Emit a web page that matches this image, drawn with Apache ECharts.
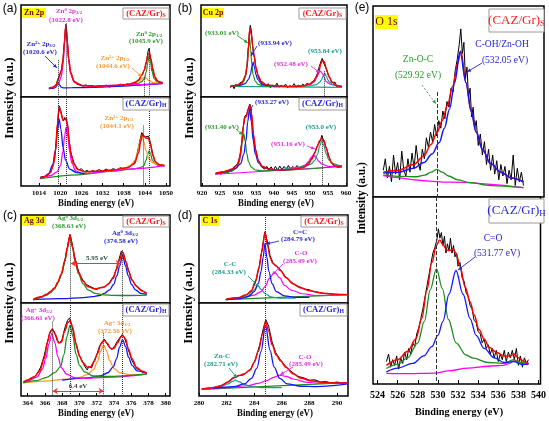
<!DOCTYPE html>
<html>
<head>
<meta charset="utf-8">
<script src="https://cdn.jsdelivr.net/npm/echarts@6/dist/echarts.min.js"></script>
<style>
html,body{margin:0;padding:0;background:#fff;}
#main{width:549px;height:421px;}
</style>
</head>
<body>
<div id="main"></div>
<script>
// tick labels of each panel
var znTicks = [1014,1020,1026,1032,1038,1044,1050];
var cuTicks = [920,925,930,935,940,945,950,955,960];
var agTicks = [364,366,368,370,372,374,376,378,380];
var c1sTicks = [280,282,284,286,288,290];
var o1sTicks = [524,526,528,530,532,534,536,538,540];

// (a) Zn 2p, (CAZ/Gr)S
var aS_zn2p3 = [[1016.8,9.1],[1018.0,9.4],[1018.7,10.3],[1019.1,12.5],[1019.5,15.3],[1019.9,12.6],[1020.3,10.6],[1021,9.9],[1022,9.9],[1024,10.2],[1049,14.6]];
var aS_zn0p3 = [[1016.8,9.6],[1017.5,10.2],[1018.5,11.5],[1019.5,14.5],[1020.3,22],[1020.8,35],[1021.2,57],[1021.6,77],[1022.0,59],[1022.4,40],[1023.0,25],[1024,16],[1026,12.3],[1030,11.6],[1040,13.4],[1049,14.8]];
var aS_zn0p1 = [[1040,13.6],[1042,14.8],[1043,16.4],[1043.8,19.8],[1044.4,27.4],[1044.8,37.5],[1045.2,45.5],[1045.6,37.6],[1046,27.6],[1046.6,20],[1047.4,16.6],[1048.5,15],[1049,14.8]];
var aS_zn2p1 = [[1038,13.3],[1040,13.9],[1041.3,15.2],[1042.4,17.6],[1043.2,20.2],[1043.8,21],[1044.4,20.2],[1045.2,17.7],[1046.4,15.6],[1048,14.8],[1049,14.6]];
var aS_fit = [[1016.8,9.3],[1018,10.5],[1018.8,12.8],[1019.5,20],[1020.3,28],[1020.8,40],[1021.2,60],[1021.6,78],[1022,61],[1022.4,41],[1023,26],[1024,16.5],[1026,12.6],[1030,11.8],[1035,12.4],[1039,13.6],[1041,15.4],[1042.2,18.5],[1043.2,24],[1043.8,29],[1044.4,38],[1044.9,46.5],[1045.25,47.5],[1045.7,41],[1046.2,31],[1046.8,22],[1047.6,17.5],[1048.5,15.5],[1049,15]];
var aS_data = [[1016.8,9],[1017.3,10.5],[1017.8,9.8],[1018.3,11.5],[1018.8,13],[1019.2,17],[1019.6,22],[1020,26],[1020.4,30],[1020.8,42],[1021.1,55],[1021.4,70],[1021.6,79],[1021.8,74],[1022.1,57],[1022.4,42],[1022.8,30],[1023.3,22],[1024,17],[1024.8,13.5],[1025.6,14],[1026.5,11.5],[1027.3,13.2],[1028.2,11],[1029,12.8],[1030,10.5],[1031,12.5],[1032,11],[1033,13],[1034,10.8],[1035,12.8],[1036,11.5],[1037,14],[1038,12],[1039,14.5],[1040,13],[1041,16],[1042,17],[1042.8,22],[1043.4,26],[1044,31],[1044.5,40],[1044.9,50],[1045.2,53],[1045.5,44],[1045.9,37],[1046.3,28],[1046.8,22],[1047.4,18],[1048,16.5],[1048.5,14.5],[1049,16]];
var aS_lines = [[1019.5,40,0],[1021.6,80,0],[1043.8,22,0],[1045.2,53,0]];

// (a) Zn 2p, (CAZ/Gr)H
var aH_zn0p1 = [[1014.3,8.3],[1025,12.6],[1035,16.7],[1040,18.8],[1042.5,20.3],[1043.6,22.2],[1044.3,28.7],[1044.8,35.6],[1045.2,39.6],[1045.6,35.8],[1046.1,29.2],[1046.8,25],[1048,22.8],[1049.5,22.6]];
var aH_zn2p3 = [[1014.3,9.6],[1015.5,10.5],[1016.7,14],[1017.9,24],[1018.6,40],[1019.2,62],[1019.7,75.5],[1020.2,64],[1020.8,43.5],[1021.5,29],[1022.7,19],[1024.7,15],[1027,14]];
var aH_zn0p3 = [[1014.3,9],[1017.2,11.5],[1019.0,15.5],[1020.1,23],[1020.75,38.5],[1021.25,56],[1021.7,66],[1022.15,56],[1022.65,38.8],[1023.3,25.8],[1024.4,17],[1026.2,13.8],[1029,14.5],[1035,17],[1040,19.2],[1049.5,22.9]];
var aH_zn2p1 = [[1035,17.3],[1038.1,19.8],[1039.9,23],[1041.1,28.5],[1041.9,37.5],[1042.5,49],[1043.1,56.6],[1043.7,50],[1044.3,39.5],[1045.1,31],[1046.3,26],[1048.1,24],[1049.5,23.5]];
var aH_fit = [[1014.3,9],[1016,11],[1017.2,15],[1018.1,24],[1018.7,40],[1019.2,70],[1019.7,88],[1020.2,82],[1020.8,74],[1021.3,75],[1021.7,76],[1022.1,68],[1022.6,48],[1023.1,35],[1023.8,25],[1025,18.5],[1027,16],[1030,16.5],[1035,18],[1039,20.5],[1041,25],[1042.2,37],[1042.8,50],[1043.2,57.5],[1043.7,56],[1044.3,54],[1045,53.5],[1045.5,48],[1046.2,35],[1047,27],[1048,24],[1049.5,23]];
var aH_data = [[1014.3,9],[1014.9,10.5],[1015.5,9.5],[1016.1,12],[1016.7,13.5],[1017.3,16],[1017.9,22],[1018.4,30],[1018.9,48],[1019.3,72],[1019.7,90],[1020.1,86],[1020.5,78],[1020.9,73],[1021.3,77],[1021.7,78],[1022.1,70],[1022.5,52],[1022.9,40],[1023.4,32],[1024,25],[1024.6,21],[1025.3,18],[1026,19.5],[1026.8,16],[1027.6,17.5],[1028.4,15.5],[1029.2,17.5],[1030,16],[1031,18.5],[1032,16.5],[1033,19],[1034,17],[1035,19.5],[1036,18],[1037,20.5],[1038,19.5],[1039,21],[1040,22.5],[1040.8,25],[1041.5,31],[1042.1,42],[1042.6,52],[1043.1,60],[1043.5,58],[1044,55],[1044.5,54.5],[1045,56],[1045.4,51],[1045.8,44],[1046.3,34],[1046.8,28],[1047.4,25.5],[1048,24],[1048.6,23],[1049.2,23.5],[1049.5,22]];
var aH_lines = [[1019.5,100,0],[1021.6,100,0],[1043.6,68,0],[1045.1,100,0]];

// (b) Cu 2p, (CAZ/Gr)S
var bS_base = [[927.9,11.6],[958.9,10.5]];
var bS_933 = [[927.9,11.6],[929.2,12.4],[930.7,13.5],[931.6,17],[932.2,24],[932.6,36],[932.9,52],[933.2,64.7],[933.5,52],[933.8,36],[934.2,24],[934.8,17],[935.7,13.5],[937.2,12.2],[941,11.3]];
var bS_934 = [[928,11.5],[930.5,12.5],[932,14.5],[932.9,19],[933.45,24.5],[933.85,32.5],[934.2,38],[934.55,32.5],[934.95,24.5],[935.5,19],[936.4,14.5],[938,12.5],[941,11.5]];
var bS_952 = [[945,11.5],[948.3,12.5],[950.2,14],[951.3,16.8],[952.0,22],[952.35,25.8],[952.9,28],[953.45,25.8],[953.9,22],[954.5,16.8],[955.6,14],[957.5,12.5],[958.9,11.5]];
var bS_954 = [[947,11],[950,12],[951.8,13.5],[952.7,16],[953.2,18.5],[953.65,22.5],[954.1,26],[954.55,22.5],[955,18.5],[955.5,16],[956.4,13.5],[958,12],[958.9,11.5]];
var bS_fit = [[927.9,11.6],[929.5,12.5],[931,15],[932,22],[932.5,33],[932.9,55],[933.3,75],[933.7,68],[934.1,55],[934.5,44],[935,32],[935.6,23],[936.5,16.5],[938,13],[941,12],[945,11.5],[948,12],[950,14],[951,17],[951.8,22],[952.5,28],[953,36],[953.5,40],[954,38],[954.6,30],[955.3,22],[956.2,16],[957.3,12.5],[958.9,11]];
var bS_data = [[927.9,10],[928.4,13],[928.9,9],[929.4,14],[929.9,11],[930.4,15],[930.9,13],[931.4,17],[931.8,21],[932.2,26],[932.5,35],[932.8,50],[933.1,68],[933.4,78],[933.7,72],[934.0,58],[934.3,47],[934.6,43],[934.9,33],[935.3,27],[935.8,20],[936.3,17],[936.8,12],[937.3,15],[937.8,11],[938.4,14.5],[939,10],[939.6,13],[940.2,11],[940.8,15],[941.4,10.5],[942,13],[942.6,11],[943.2,14],[943.8,10],[944.4,12.5],[945,11],[945.6,14.5],[946.2,10.5],[946.8,13],[947.4,11.5],[948,14],[948.6,12],[949.2,15],[949.8,13],[950.4,16],[951,17.5],[951.6,21],[952.1,26],[952.6,33],[953.0,38],[953.4,42],[953.8,37],[954.2,39],[954.6,30],[955,25],[955.5,21],[956,16],[956.5,14],[957,16],[957.5,11],[958,13],[958.5,10.5],[958.9,12]];
var bS_lines = [[954.1,28,0]];

// (b) Cu 2p, (CAZ/Gr)H
var bH_base = [[923.7,13.2],[958.9,21.9]];
var bH_931 = [[923.7,13.5],[926.6,15],[928.4,17],[929.6,20.5],[930.3,26.5],[930.8,36.5],[931.2,49.5],[931.6,58.5],[932,50],[932.4,37],[932.9,27.5],[933.6,21.5],[934.8,18],[936.6,17],[940,17.5],[958.9,22.5]];
var bH_933 = [[924,14],[926.2,16],[929.2,19.5],[930.7,25],[931.6,35.5],[932.2,51],[932.7,72.4],[933.2,86.8],[933.7,72.6],[934.2,51.5],[934.8,36],[935.7,26],[937.2,20.5],[940.2,18],[943,17.5]];
var bH_951 = [[940,18],[944.5,19],[946.8,20.5],[948.7,23.5],[949.6,27.5],[950.3,32],[951,35],[951.7,32.2],[952.4,28],[953.3,24.5],[955.2,22],[957.5,22],[958.9,22]];
var bH_953 = [[943,19.5],[948.3,21.5],[950.3,24.5],[951.3,28.5],[952.1,35.5],[952.7,44.8],[953.3,51],[953.9,45],[954.5,36.2],[955.3,29],[956.3,25.2],[958.3,22.8],[958.9,22.7]];
var bH_fit = [[923.7,14],[926,16],[928.5,19],[929.8,24],[930.5,32],[931,47],[931.5,68],[931.9,77],[932.3,78],[932.8,86],[933.3,90.5],[933.8,80],[934.3,58],[934.9,40],[935.7,28],[936.8,22],[938.5,19],[941,18],[945,18.5],[948,20.5],[949.5,24],[950.5,30],[951.3,37],[952,44],[952.7,51],[953.3,54],[953.9,51],[954.5,43],[955.2,33],[956,26],[957,22.5],[958.9,22]];
var bH_data = [[923.7,14],[924.2,12],[924.7,15.5],[925.2,13],[925.7,16.5],[926.2,14],[926.7,17.5],[927.2,15],[927.7,19],[928.2,16],[928.7,21],[929.2,19],[929.7,24],[930.2,28],[930.6,36],[931,48],[931.4,64],[931.8,78],[932.1,76],[932.5,81],[932.9,88],[933.3,92],[933.7,84],[934.1,63],[934.5,50],[934.9,41],[935.4,31],[935.9,27],[936.4,22],[936.9,24],[937.4,19],[938,22],[938.6,18],[939.2,21.5],[939.8,17.5],[940.4,22],[941,18],[941.6,22.5],[942.2,18.5],[942.8,22],[943.4,19],[944,23],[944.6,18.5],[945.2,22],[945.8,19.5],[946.4,23],[947,20],[947.6,22],[948.2,21.5],[948.8,24],[949.4,25],[950,28],[950.5,31],[951,35],[951.5,39],[952,45],[952.5,48],[953,52],[953.3,57],[953.6,53],[954,51],[954.4,44],[954.8,40],[955.3,33],[955.8,27],[956.3,26],[956.8,22],[957.3,24],[957.8,21],[958.3,23],[958.9,21.5]];
var bH_lines = [[953.3,56,0]];

// (c) Ag 3d, (CAZ/Gr)S
var cS_ag0d5 = [[364.66,4.2],[365.5,6.5],[366.2,9],[366.6,11.5],[367.1,16],[367.5,23],[367.9,32],[368.3,47],[368.6,62],[368.9,76],[369.2,63],[369.5,47],[369.9,33],[370.4,22],[371,15],[371.8,11],[372.8,9.3],[374,8.6],[375.5,8.5],[377.8,8.9]];
var cS_ag0d3 = [[364.66,3.8],[368,5],[370.5,6.2],[371.5,7.2],[372.3,8.5],[372.9,11],[373.5,15],[373.95,21],[374.35,31],[374.65,42],[375,54],[375.35,42],[375.65,31],[376.05,21],[376.5,15],[377.1,11],[377.8,9.5]];
var cS_fit = [[364.66,4],[365.5,7],[366.2,10],[366.6,12.5],[367.1,17],[367.5,24],[367.9,33],[368.3,48],[368.6,63],[368.9,77],[369.2,64],[369.5,48.5],[369.9,35],[370.4,25],[371,18.5],[371.8,16],[372.8,18],[373.4,22],[373.9,28],[374.3,38],[374.6,48],[375,58],[375.4,47],[375.7,36],[376.1,26],[376.6,19],[377.2,14],[377.8,11]];
var cS_data = [[364.66,3.5],[365,5.5],[365.4,6],[365.8,8],[366.2,9.5],[366.6,13],[367,15],[367.4,21],[367.8,30],[368.1,39],[368.4,53],[368.7,69],[368.9,78],[369.1,70],[369.4,54],[369.7,43],[370,32],[370.4,26],[370.8,21],[371.2,19],[371.6,17],[372,15.5],[372.4,17.5],[372.8,18],[373.2,20],[373.6,25],[374,31],[374.3,39],[374.6,50],[374.85,59],[375.1,56],[375.4,46],[375.7,37],[376,28],[376.4,22],[376.8,17],[377.2,15],[377.5,12],[377.8,11]];
var cS_lines = [[368.9,72,0],[375.0,60,0]];
var cS_gap = [369.0,374.8,45];

// (c) Ag 3d, (CAZ/Gr)H
var cH_agp5 = [[363.5,15],[364.1,16.5],[365.1,20.5],[365.7,29],[366.1,40.5],[366.45,56],[366.8,67],[367.15,57],[367.5,42],[367.9,30.5],[368.5,23.5],[369.5,19.5],[370.8,19],[373,20],[377.8,23.5]];
var cH_ag0d5 = [[363.5,14],[365,16.5],[366.2,20],[367.2,25.5],[367.8,31.5],[368.2,44.5],[368.55,64],[368.9,76],[369.25,64],[369.6,45],[370,33],[370.6,26],[371.6,21.5],[373,21],[377.8,23.6]];
var cH_agp3 = [[363.5,14.3],[366,16],[368.5,18],[370,20],[370.9,23],[371.6,28],[372.1,37],[372.45,48],[372.8,54.6],[373.15,48.5],[373.5,38],[374,29.5],[374.7,25],[375.8,23],[377.8,23.6]];
var cH_ag0d3 = [[368,17],[371,19.5],[372.4,21.5],[373.3,25],[373.9,31],[374.3,40],[374.65,52.5],[375,60.7],[375.35,53],[375.7,41.5],[376.1,33],[376.7,27],[377.8,24.5]];
var cH_fit = [[363.5,15],[364.1,17.5],[364.8,21],[365.4,27],[365.9,40],[366.3,58],[366.6,69],[366.85,72],[367.2,66],[367.6,57],[367.9,58],[368.3,70],[368.65,79],[368.9,81],[369.2,74],[369.6,56],[370,43],[370.4,36],[370.9,31],[371.3,31.5],[371.7,37],[372.1,46],[372.5,56],[372.85,60],[373.2,57],[373.6,51],[374,51],[374.4,57],[374.8,63.5],[375.0,65],[375.3,62],[375.7,50],[376.1,40],[376.6,31],[377.2,27],[377.8,24.5]];
var cH_data = [[363.5,15.5],[363.9,16],[364.3,19],[364.7,20],[365.1,24],[365.5,31],[365.9,43],[366.2,55],[366.5,66],[366.8,72],[367.1,69],[367.4,60],[367.7,57],[368.0,61],[368.3,73],[368.6,81],[368.85,84],[369.1,77],[369.4,64],[369.7,52],[370,43],[370.3,38],[370.6,32],[370.9,28],[371.1,32],[371.4,30],[371.7,38],[372,44],[372.3,53],[372.6,58],[372.9,61],[373.2,56],[373.5,52],[373.8,50],[374.1,54],[374.4,59],[374.7,63],[374.95,66],[375.2,63],[375.5,55],[375.8,46],[376.1,38],[376.4,33],[376.7,29],[377,28.5],[377.3,25],[377.6,26],[377.8,24]];
var cH_lines = [[366.8,80,0],[368.9,100,0],[372.8,68,0],[375.0,100,0]];
var cH_gap = [366.9,372.8,5.4];

// (d) C 1s, (CAZ/Gr)S
var dS_base = [[281.9,3.8],[290.8,9.5]];
var dS_cc = [[282,4],[282.9,5.5],[283.4,7],[283.75,10],[284.0,15],[284.26,20],[284.5,15.5],[284.8,10.5],[285.2,7],[285.8,5.5],[287,5.5]];
var dS_c2c = [[282,4],[283,5],[283.6,7.5],[284.0,13],[284.3,22],[284.5,36],[284.65,52],[284.78,67.7],[284.92,52],[285.06,36],[285.3,22],[285.6,13],[286.2,8],[287,6.5],[288,6.5]];
var dS_co = [[282,4.5],[283.2,6],[284,9],[284.5,13],[284.8,19],[285.1,28],[285.48,35],[285.85,28.5],[286.2,20],[286.7,14.5],[287.5,10.5],[288.5,8.5],[290.8,9.5]];
var dS_fit = [[282,4.5],[282.8,6],[283.4,9],[283.8,14],[284.1,25],[284.35,40],[284.55,58],[284.78,80],[284.98,65],[285.15,52],[285.35,45],[285.6,42],[285.9,37],[286.3,29],[286.8,22],[287.4,17],[288,14],[288.8,11.5],[289.8,10],[290.8,9.5]];
var dS_data = [[282,3.5],[282.5,5],[283,6],[283.4,9],[283.8,13],[284.1,24],[284.35,40],[284.55,59],[284.78,81],[284.95,70],[285.15,54],[285.35,46],[285.6,42],[285.9,38],[286.2,31],[286.6,25],[287,20],[287.3,18.5],[287.6,16],[288,15],[288.3,13],[288.6,12.5],[289,11],[289.4,10.5],[289.8,10],[290.3,9.5],[290.8,9.8]];
var dS_lines = [[284.82,100,0]];

// (d) C 1s, (CAZ/Gr)H
var dH_base = [[280.2,7.1],[290.8,14.3]];
var dH_znc = [[280.2,7.5],[281,8.5],[281.6,10],[282.1,13],[282.4,15.5],[282.65,17],[282.9,15.5],[283.2,13],[283.7,10.5],[284.5,9],[286,9]];
var dH_c2c = [[281,8],[282.5,10],[283.3,13],[283.8,19],[284.2,30],[284.5,48],[284.82,76],[285.15,49],[285.45,31],[285.85,19],[286.4,13],[287.4,10.5],[288.5,10],[290.8,13]];
var dH_co = [[280.2,7.5],[282,9],[283.5,11],[284.3,13.5],[284.9,16.5],[285.4,20],[285.84,22.5],[286.3,21],[286.9,18],[287.7,15],[288.8,13.5],[290.8,14]];
var dH_fit = [[280.2,7.5],[281,9],[281.6,11],[282.1,15],[282.5,19.5],[282.9,22],[283.3,24],[283.7,28],[284.0,36],[284.3,48],[284.6,66],[284.82,80],[285.05,70],[285.3,55],[285.6,44],[285.9,38],[286.3,31],[286.8,24],[287.4,19],[288.2,16],[289,14.5],[290,14],[290.8,14]];
var dH_data = [[280.2,7],[280.5,8],[280.8,7.5],[281.1,9.5],[281.4,10],[281.7,12],[282,14],[282.3,17.5],[282.6,20],[282.9,22],[283.2,22.5],[283.5,26],[283.8,30],[284.1,40],[284.4,55],[284.65,72],[284.85,82],[285.05,75],[285.3,58],[285.55,47],[285.85,40],[286.1,35],[286.4,30],[286.8,25],[287.2,21],[287.6,19.5],[288,17],[288.4,17.5],[288.8,15],[289.2,15.5],[289.6,14],[290,15],[290.4,14],[290.8,14.5]];
var dH_lines = [[284.82,100,0]];

// (e) O 1s, (CAZ/Gr)S
var eS_base = [[524.55,11.2],[531,7.8],[538.2,4.9]];
var eS_znoc = [[524.55,11.5],[526.5,10.8],[527.8,10.6],[528.6,11.5],[529.2,13],[529.76,14.5],[530.3,13],[530.9,11],[531.8,9],[533,7.5],[535,6],[538.2,4.9]];
var eS_coh = [[524.55,12.5],[526,13],[527.5,15],[528.5,18],[529.3,22.5],[530,28.5],[530.5,36],[531,46],[531.5,60],[532.03,76],[532.6,60],[533.1,45],[533.6,34],[534.2,25],[535,17.5],[536,13],[537,10],[538.2,8]];
var eS_fit = [[524.55,13],[526,14],[527.5,17],[528.5,21.5],[529.2,27.5],[529.8,34],[530.3,40],[530.8,48],[531.3,58],[531.8,70],[532.1,76.5],[532.6,60],[533.1,45],[533.6,34],[534.2,25],[535,17.5],[536,13],[537,10],[538.2,8]];
var eS_data = [[524.55,14],[524.75,20],[524.95,10],[525.15,16],[525.35,8],[525.55,22],[525.75,12],[525.95,18],[526.15,9],[526.35,24],[526.55,14],[526.75,11],[526.95,20],[527.15,13],[527.35,23],[527.55,15],[527.75,27],[527.95,18],[528.15,14],[528.35,25],[528.55,20],[528.75,31],[528.95,26],[529.15,34],[529.35,29],[529.55,38],[529.75,32],[529.95,40],[530.15,36],[530.35,45],[530.55,41],[530.75,50],[530.95,47],[531.15,57],[531.35,55],[531.55,66],[531.75,72],[531.95,80],[532.1,88],[532.25,75],[532.4,81],[532.55,62],[532.7,68],[532.85,52],[533.0,57],[533.15,42],[533.3,47],[533.45,36],[533.6,40],[533.8,27],[534,33],[534.2,22],[534.4,29],[534.6,17],[534.8,25],[535,14],[535.2,22],[535.4,12],[535.6,19],[535.8,9],[536,17],[536.2,11],[536.4,16],[536.6,7],[536.8,14],[537,9],[537.2,22],[537.4,6],[537.6,15],[537.8,8],[538,13],[538.2,6]];
var eS_lines = [[529.8,55,0]];

// (e) O 1s, (CAZ/Gr)H
var eH_base = [[524.88,5.7],[527,5.5],[529.7,5.8],[531,7],[533,8.5],[535,9.5],[536.5,10],[537.1,11],[537.56,12.5],[538,11.2],[538.6,10.6],[539,10.7]];
var eH_znoc = [[524.88,8.3],[526,10.5],[527,14],[528,22],[528.65,33.5],[529.25,50.5],[529.85,61.6],[530.45,51],[531.05,34.5],[531.8,22],[532.8,15.5],[533.5,13.8],[535,11.5],[536.5,11],[537.56,13],[538.2,11.5],[539,11]];
var eH_c2o = [[524.88,6.5],[526,8.5],[527.5,11],[528.6,15],[529.4,20],[530.0,26],[530.5,33.5],[531.1,48],[531.8,60.7],[532.5,48],[533.2,35],[533.8,26],[534.6,19],[535.6,14],[536.6,11.5],[537.56,12],[538.3,10.5],[539,10.5]];
var eH_fit = [[524.88,10],[526,13],[527,17.5],[527.8,24],[528.4,35],[528.9,50],[529.4,65],[529.85,74],[530.18,77],[530.55,74],[530.9,71.5],[531.2,71.5],[531.5,72.3],[531.8,70],[532.2,63],[532.7,52],[533.2,44],[533.6,37],[534.1,29],[534.6,24],[535.1,19.6],[535.8,17],[536.6,15],[537.2,15],[537.56,16],[538,14],[538.6,12],[539,11]];
var eH_data = [[524.88,12],[525.1,16],[525.3,9],[525.5,13],[525.7,10],[525.9,15],[526.1,8],[526.3,14],[526.5,11],[526.7,17],[526.9,13],[527.1,19],[527.3,16],[527.5,22],[527.7,20],[527.9,27],[528.1,30],[528.3,35],[528.5,40],[528.7,46],[528.9,52],[529.1,58],[529.3,64],[529.5,70],[529.7,73],[529.9,77],[530.05,83],[530.2,78],[530.35,81],[530.5,74],[530.65,79],[530.8,70],[530.95,75],[531.1,71],[531.25,78],[531.4,70],[531.55,74],[531.7,68],[531.85,70],[532,63],[532.2,65],[532.4,57],[532.6,55],[532.8,49],[533,47],[533.2,42],[533.4,40],[533.6,34],[533.8,33],[534,28],[534.2,27],[534.4,22],[534.6,24],[534.8,19],[535,21],[535.2,16],[535.4,19],[535.6,14],[535.8,18],[536,12],[536.2,16],[536.4,13],[536.6,18],[536.8,12],[537,17],[537.2,14],[537.4,18],[537.6,13],[537.8,19],[538,10],[538.2,15],[538.4,9],[538.6,14],[538.8,11],[539,13]];
var eH_lines = [[529.8,100,0]];

var SERIF = "'Liberation Serif','DejaVu Serif',serif";
var SANS = "'Liberation Sans','DejaVu Sans',sans-serif";
var RED = '#ff0000', BLUE = '#1414ff', MAG = '#ff00ff', GRN = '#1e8c1e', ORG = '#ff9a2e', TEAL = '#17a08e', BLK = '#000';

// grid boxes: a top/bottom, b, c, d, e
var grids = [
    {left:21, top:5, width:149, height:92}, {left:21, top:97, width:149, height:89},
    {left:201, top:5, width:146, height:92}, {left:201, top:97, width:146, height:89},
    {left:21, top:215, width:149, height:88}, {left:21, top:303, width:149, height:93},
    {left:199, top:215, width:149, height:88}, {left:199, top:303, width:149, height:93},
    {left:373, top:6, width:171, height:191}, {left:373, top:197, width:171, height:187}
];
var ranges = [[1008.9,1051.1],[919.7,960.3],[363.22,380.5],[280,290.8],[523.55,540.2]];
var tickSets = [znTicks, cuTicks, agTicks, c1sTicks, o1sTicks];

var xAxes = [], yAxes = [];
grids.forEach(function(g, i){
    g.show = true; g.borderColor = '#000'; g.borderWidth = 1.5; g.backgroundColor = '#fff';
    var p = Math.floor(i/2), bottom = i % 2 == 1, big = p == 4;
    xAxes.push({
        type:'value', gridIndex:i, min:ranges[p][0], max:ranges[p][1],
        splitLine:{show:false}, axisLine:{show:false},
        axisTick: bottom ? {show:true, inside:true, length:big?4:3, customValues:tickSets[p], lineStyle:{color:'#000', width:1}} : {show:false},
        axisLabel: bottom ? {show:true, customValues:tickSets[p], color:'#000', fontFamily:SERIF, fontWeight:'bold', fontSize:big?10:7, margin:big?6:4,
            formatter:function(v){ return String(v); }} : {show:false}
    });
    yAxes.push({type:'value', gridIndex:i, min:0, max:100, show:false});
});

var series = [];
function add(g, data, color, w, z, jagged){
    var s = {type:'line', xAxisIndex:g, yAxisIndex:g, data:data, symbol:'none', showSymbol:false,
        smooth: jagged ? false : 0.35, smoothMonotone:'x', lineStyle:{color:color, width:w},
        itemStyle:{color:color}, z:z, silent:true, animation:false};
    series.push(s);
    return s;
}
function vlines(s, list, type){
    s.markLine = {silent:true, symbol:'none', animation:false, label:{show:false},
        lineStyle:{color:'#333', width:1, type:type || 'dotted'},
        data:list.map(function(m){ return [{coord:[m[0], m[1]]}, {coord:[m[0], m[2]]}]; })};
}
function gapArrow(s, gap){
    s.markLine = {silent:true, symbol:['arrow','arrow'], symbolSize:5, animation:false, label:{show:false},
        lineStyle:{color:'#ff3030', width:1, type:'solid'},
        data:[[{coord:[gap[0], gap[2]]}, {coord:[gap[1], gap[2]]}]]};
}

// (a)
add(0, aS_data, BLK, 1, 2, true);
add(0, aS_zn2p3, BLUE, 1.2, 3);
add(0, aS_zn2p1, ORG, 1.2, 3);
add(0, aS_zn0p1, GRN, 1.2, 3);
add(0, aS_zn0p3, MAG, 1.3, 3);
vlines(add(0, aS_fit, RED, 1.5, 4), aS_lines);
add(1, aH_data, BLK, 1, 2, true);
add(1, aH_zn0p1, GRN, 1.2, 3);
add(1, aH_zn2p1, ORG, 1.2, 3);
add(1, aH_zn0p3, MAG, 1.3, 3);
add(1, aH_zn2p3, BLUE, 1.3, 3);
vlines(add(1, aH_fit, RED, 1.5, 4), aH_lines);
// (b)
add(2, bS_data, BLK, 1, 2, true);
add(2, bS_base, TEAL, 1.2, 3);
add(2, bS_933, GRN, 1.2, 3);
add(2, bS_934, BLUE, 1.2, 3);
add(2, bS_952, MAG, 1.2, 3);
add(2, bS_954, TEAL, 1.2, 3);
vlines(add(2, bS_fit, RED, 1.5, 4), bS_lines);
add(3, bH_data, BLK, 1, 2, true);
add(3, bH_base, MAG, 1.2, 3);
add(3, bH_931, GRN, 1.2, 3);
add(3, bH_933, BLUE, 1.3, 3);
add(3, bH_951, MAG, 1.2, 3);
add(3, bH_953, TEAL, 1.2, 3);
vlines(add(3, bH_fit, RED, 1.5, 4), bH_lines);
// (c)
gapArrow(add(4, cS_data, BLK, 1, 2, true), cS_gap);
add(4, cS_ag0d3, BLUE, 1.3, 3);
add(4, cS_ag0d5, GRN, 1.3, 3);
vlines(add(4, cS_fit, RED, 1.5, 4), cS_lines);
gapArrow(add(5, cH_data, BLK, 1, 2, true), cH_gap);
add(5, cH_agp3, ORG, 1.3, 3);
add(5, cH_ag0d3, BLUE, 1.3, 3);
add(5, cH_agp5, MAG, 1.3, 3);
add(5, cH_ag0d5, GRN, 1.3, 3);
vlines(add(5, cH_fit, RED, 1.5, 4), cH_lines);
// (d)
add(6, dS_data, BLK, 1, 2, true);
add(6, dS_base, GRN, 1.2, 3);
add(6, dS_cc, TEAL, 1.2, 3);
add(6, dS_co, MAG, 1.2, 3);
add(6, dS_c2c, BLUE, 1.3, 3);
vlines(add(6, dS_fit, RED, 1.5, 4), dS_lines);
add(7, dH_data, BLK, 1, 2, true);
add(7, dH_base, GRN, 1.2, 3);
add(7, dH_znc, TEAL, 1.2, 3);
add(7, dH_co, MAG, 1.2, 3);
add(7, dH_c2c, BLUE, 1.3, 3);
vlines(add(7, dH_fit, RED, 1.5, 4), dH_lines);
// (e)
add(8, eS_data, BLK, 1, 2, true);
add(8, eS_base, MAG, 1.3, 3);
add(8, eS_znoc, GRN, 1.3, 3);
add(8, eS_fit, RED, 1.5, 4);
vlines(add(8, eS_coh, BLUE, 1.5, 5), eS_lines, 'dashed');
add(9, eH_data, BLK, 1, 2, true);
add(9, eH_base, MAG, 1.3, 3);
add(9, eH_znoc, GRN, 1.3, 3);
add(9, eH_c2o, BLUE, 1.3, 3);
vlines(add(9, eH_fit, RED, 1.5, 4), eH_lines, 'dashed');

// ---- texts and boxes ----
var gfx = [];
function txt(x, y, s, color, size, o){
    o = o || {};
    var fam = o.fam || SERIF, w = o.w || 'bold';
    var st = {text:s, fill:color, font:w + ' ' + size + 'px ' + fam, fontSize:size, fontFamily:fam, fontWeight:w,
        textAlign:'center', textVerticalAlign:'middle', align:'center', verticalAlign:'middle'};
    if (o.rich) st.rich = o.rich;
    gfx.push({type:'text', x:x, y:y, rotation:o.rot || 0, scaleX:o.sx || 1, z:100, silent:true, style:st});
}
// label with superscript {p|} and subscript {b|}
function rtxt(x, y, s, color, size, o){
    o = o || {};
    var w = o.w || 'bold', fam = o.fam || SERIF, small = Math.round(size * 0.68 * 10) / 10, off = size * 0.45;
    o.rich = {
        n:{fontSize:size, fontFamily:fam, fontWeight:w, fill:color, color:color},
        p:{fontSize:small, fontFamily:fam, fontWeight:w, fill:color, color:color, padding:[0,0,off,0]},
        b:{fontSize:small, fontFamily:fam, fontWeight:w, fill:color, color:color, padding:[off,0,0,0]}
    };
    txt(x, y, s, color, size, o);
}
function box(x, y, w, h, fill, stroke){
    gfx.push({type:'rect', shape:{x:x, y:y, width:w, height:h}, z:90, silent:true,
        style:{fill:fill, stroke:stroke || null, lineWidth:1}});
}
function arrow(x1, y1, x2, y2, color, dashed){
    gfx.push({type:'line', shape:{x1:x1, y1:y1, x2:x2, y2:y2}, z:95, silent:true,
        style:{stroke:color, lineWidth:0.9, lineDash:dashed ? [2,2] : null}});
    var dx = x2 - x1, dy = y2 - y1, len = Math.sqrt(dx*dx + dy*dy), ux = dx/len, uy = dy/len;
    gfx.push({type:'polygon', z:95, silent:true, style:{fill:color},
        shape:{points:[[x2, y2], [x2 - ux*4 - uy*1.8, y2 - uy*4 + ux*1.8], [x2 - ux*4 + uy*1.8, y2 - uy*4 - ux*1.8]]}});
}
function sampleBox(x, y, w, h, label, color, size, o){
    box(x, y, w, h, '#fff', '#9a9a9a');
    rtxt(x + w/2, y + h/2, label, color, size, o);
}

var T_MAG = '#e62ee6', T_BLUE = '#2626d9', T_GRN = '#2f9a2f', T_ORG = '#ff9933', T_TEAL = '#1b9e8c', T_RED = '#ff1a1a';

// panel letters
txt(10, 9, '(a)', '#000', 12, {fam:SANS, w:'normal'});
txt(185, 9, '(b)', '#000', 12, {fam:SANS, w:'normal'});
txt(10, 216, '(c)', '#000', 12, {fam:SANS, w:'normal'});
txt(185, 216, '(d)', '#000', 12, {fam:SANS, w:'normal'});
txt(362, 8, '(e)', '#000', 12, {fam:SANS, w:'normal'});

// axis titles
[[96,203],[276,203],[96,413],[275,413]].forEach(function(p){ txt(p[0], p[1], 'Binding energy (eV)', '#000', 11, {sx:0.8}); });
txt(459, 412, 'Binding energy (eV)', '#000', 11, {sx:0.93});
[[10,98],[190,98],[10,303],[189,303]].forEach(function(p){ txt(p[0], p[1], 'Intensity (a.u.)', '#000', 13, {rot:Math.PI/2}); });
txt(362, 198, 'Intensity (a.u.)', '#000', 11.5, {rot:Math.PI/2});

// yellow element tags
box(22, 8, 24, 10, '#ffff00'); txt(34, 13, 'Zn 2p', '#7a0000', 8);
box(202, 8, 22, 10, '#ffff00'); txt(213, 13, 'Cu 2p', '#7a0000', 8);
box(22, 216, 24, 10, '#ffff00'); txt(34, 221, 'Ag 3d', '#7a0000', 8);
box(201, 216, 18, 10, '#ffff00'); txt(210, 221, 'C 1s', '#7a0000', 8);
box(375, 15, 23, 14, '#ffff00'); txt(386.5, 22, 'O 1s', '#7a0000', 12, {w:'normal'});

// sample tags
sampleBox(123, 8, 46, 11, '{n|(CAZ/Gr)}{b|S}', T_RED, 8.5);
sampleBox(123, 98, 46, 12, '{n|(CAZ/Gr)}{b|H}', T_BLUE, 8.5);
sampleBox(299, 8, 47, 11, '{n|(CAZ/Gr)}{b|S}', T_RED, 8.5);
sampleBox(299, 98, 47, 12, '{n|(CAZ/Gr)}{b|H}', T_BLUE, 8.5);
sampleBox(123, 216, 46, 11, '{n|(CAZ/Gr)}{b|S}', T_RED, 8.5);
sampleBox(123, 304, 46, 12, '{n|(CAZ/Gr)}{b|H}', T_BLUE, 8.5);
sampleBox(301, 216, 46, 11, '{n|(CAZ/Gr)}{b|S}', T_RED, 8.5);
sampleBox(300, 304, 47, 12, '{n|(CAZ/Gr)}{b|H}', T_BLUE, 8.5);
sampleBox(489, 9, 55, 23, '{n|(CAZ/Gr)}{b|S}', T_RED, 13, {w:'normal'});
sampleBox(489, 199, 55, 24, '{n|(CAZ/Gr)}{b|H}', T_BLUE, 13, {w:'normal'});

// (a) peak labels
rtxt(69, 11, '{n|Zn}{p|0}{n| 2p}{b|3/2}', T_MAG, 7);
txt(66, 20, '(1022.8 eV)', T_MAG, 7);
rtxt(41, 44, '{n|Zn}{p|2+}{n| 2p}{b|3/2}', T_BLUE, 7);
txt(40, 52, '(1020.6 eV)', T_BLUE, 7);
arrow(45, 56, 57, 68, T_BLUE);
rtxt(149, 34, '{n|Zn}{p|0}{n| 2p}{b|1/2}', T_GRN, 7);
txt(146, 41, '(1045.9 eV)', T_GRN, 7);
rtxt(115, 58, '{n|Zn}{p|2+}{n| 2p}{b|1/2}', T_ORG, 7);
txt(113, 66, '(1044.6 eV)', T_ORG, 7);
arrow(132, 68, 142, 77, T_ORG);
rtxt(119, 118, '{n|Zn}{p|2+}{n| 2p}{b|1/2}', T_ORG, 7);
txt(117, 126, '(1044.1 eV)', T_ORG, 7);

// (b) peak labels
txt(222, 33, '(933.01 eV)', T_GRN, 7);
arrow(238, 36, 248, 43, T_GRN);
txt(275, 43, '(933.94 eV)', T_BLUE, 7);
arrow(257, 46, 251, 56, T_BLUE);
txt(325, 51, '(953.84 eV)', T_TEAL, 7);
txt(291, 64, '(952.48 eV)', T_MAG, 7);
arrow(311, 66, 320, 73, T_MAG);
txt(272, 102, '(933.27 eV)', T_BLUE, 7);
arrow(253, 105, 249, 112, T_BLUE);
txt(222, 127, '(931.40 eV)', T_GRN, 7);
arrow(236, 129, 243, 135, T_GRN);
txt(321, 127, '(953.0 eV)', T_TEAL, 7);
txt(288, 144, '(951.16 eV)', T_MAG, 7);
arrow(307, 146, 315, 149, T_MAG);

// (c) peak labels
rtxt(70, 218, '{n|Ag}{p|0}{n| 3d}{b|5/2}', T_GRN, 7);
txt(69, 226, '(368.63 eV)', T_GRN, 7);
rtxt(125, 233, '{n|Ag}{p|0}{n| 3d}{b|3/2}', T_BLUE, 7);
txt(121, 241, '(374.58 eV)', T_BLUE, 7);
txt(97, 258, '5.95 eV', '#444', 7);
rtxt(39, 310, '{n|Ag}{p|+}{n| 3d}{b|5/2}', T_MAG, 7);
txt(38, 318, '(366.61 eV)', T_MAG, 7);
rtxt(117, 323, '{n|Ag}{p|+}{n| 3d}{b|3/2}', T_ORG, 7);
txt(115, 331, '(372.56 eV)', T_ORG, 7);
txt(78, 386, '6.4 eV', '#444', 7);

// (d) peak labels
txt(300, 232, 'C=C', T_BLUE, 7);
txt(298, 239, '(284.79 eV)', T_BLUE, 7);
arrow(279, 241, 266, 244, T_BLUE);
txt(301, 253, 'C-O', T_MAG, 7);
txt(300, 261, '(285.49 eV)', T_MAG, 7);
arrow(283, 264, 272, 275, T_MAG);
txt(230, 264, 'C-C', T_TEAL, 7);
txt(229, 272, '(284.33 eV)', T_TEAL, 7);
arrow(248, 276, 259, 287, T_TEAL);
txt(222, 356, 'Zn-C', T_TEAL, 7);
txt(221, 364, '(282.71 eV)', T_TEAL, 7);
arrow(229, 368, 237, 378, T_TEAL);
txt(305, 357, 'C-O', T_MAG, 7);
txt(306, 364, '(285.49 eV)', T_MAG, 7);
arrow(293, 367, 280, 375, T_MAG);

// (e) peak labels
txt(502, 44, 'C-OH/Zn-OH', T_BLUE, 11, {w:'normal', sx:0.87});
txt(505, 60, '(532.05 eV)', T_BLUE, 11, {w:'normal', sx:0.87});
arrow(482, 63, 467, 72, T_BLUE);
txt(418, 59, 'Zn-O-C', T_GRN, 11, {w:'normal', sx:0.87});
txt(418, 75, '(529.92 eV)', T_GRN, 11, {w:'normal', sx:0.87});
arrow(422, 85, 436, 104, T_GRN, true);
txt(493, 238, 'C=O', T_BLUE, 11, {w:'normal', sx:0.87});
txt(497, 253, '(531.77 eV)', T_BLUE, 11, {w:'normal', sx:0.87});
arrow(475, 257, 458, 270, T_BLUE);

var chart = echarts.init(document.getElementById('main'), null, {renderer:'canvas'});
chart.setOption({
    animation:false,
    backgroundColor:'#fff',
    grid:grids,
    xAxis:xAxes,
    yAxis:yAxes,
    series:series,
    graphic:{elements:gfx}
});
</script>
</body>
</html>
